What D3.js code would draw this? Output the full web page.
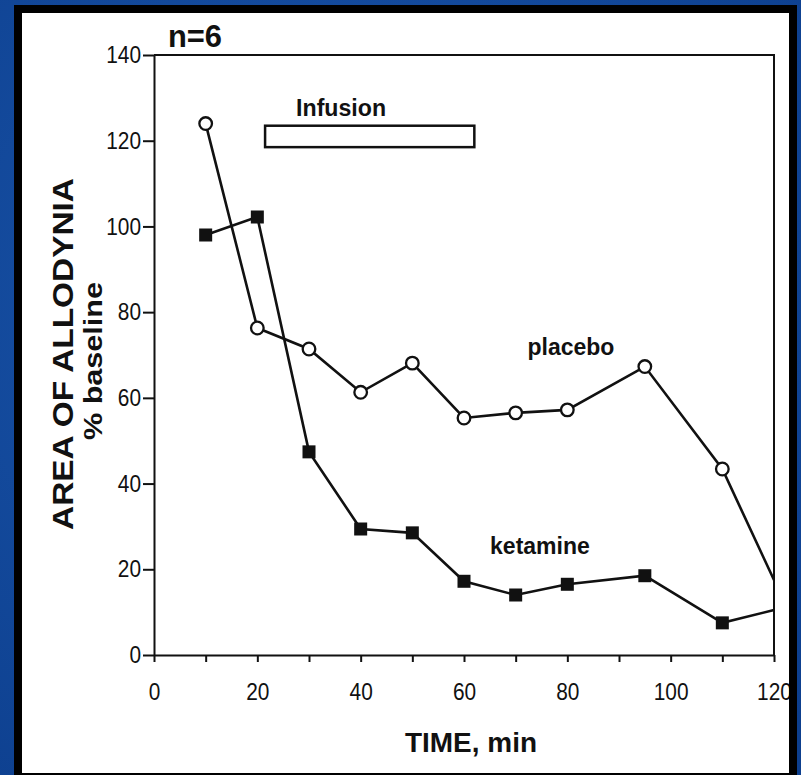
<!DOCTYPE html>
<html>
<head>
<meta charset="utf-8">
<script src="https://cdn.jsdelivr.net/npm/d3@7"></script>
<style>
html,body{margin:0;padding:0;background:#0f4595;}
svg{display:block;}
</style>
</head>
<body>
<svg id="chart" width="801" height="775"></svg>
<script>
// ---- data ----
const times    = [10, 20, 30, 40, 50, 60, 70, 80, 95, 110, 120];
const placebo  = [124, 76.3, 71.4, 61.3, 68.1, 55.3, 56.5, 57.2, 67.3, 43.4, 17.5];
const ketamine = [98, 102.2, 47.4, 29.4, 28.5, 17.2, 14.0, 16.5, 18.5, 7.5, 10.5];
const yTicks = [0, 20, 40, 60, 80, 100, 120, 140];
const xTicks = [0, 10, 20, 30, 40, 50, 60, 70, 80, 90, 100, 110, 120];
const xLabelTicks = [0, 20, 40, 60, 80, 100, 120];
const infusion = {start: 21.5, end: 62, low: 118.5, high: 123.5, label: "Infusion"};
const seriesLabels = [
  {name: "placebo", t: 80.7, v: 70},
  {name: "ketamine", t: 74.7, v: 23.5}
];

const svg = d3.select("#chart");

// background
const defs = svg.append("defs");
const grad = defs.append("radialGradient").attr("id","bg").attr("cx","40%").attr("cy","40%").attr("r","80%");
grad.append("stop").attr("offset","0%").attr("stop-color","#1a55ab");
grad.append("stop").attr("offset","100%").attr("stop-color","#0d3f8e");
svg.append("rect").attr("width",801).attr("height",775).attr("fill","url(#bg)");

// black frame and white panel
svg.append("rect").attr("x",14).attr("y",5).attr("width",783).attr("height",780).attr("fill","#000");
svg.append("rect").attr("x",22).attr("y",13).attr("width",767).attr("height",760).attr("fill","#fff");

const x = d3.scaleLinear().domain([0,120]).range([154,774]);
const y = d3.scaleLinear().domain([0,140]).range([655,55]);

const boldFont = "'Liberation Sans',Arial,Helvetica,sans-serif";

defs.append("clipPath").attr("id","panel").append("rect")
  .attr("x",22).attr("y",13).attr("width",767).attr("height",760);
const g = svg.append("g").attr("clip-path","url(#panel)");

function condense(sel){
  sel.attr("font-family",boldFont).attr("font-size",24).attr("fill","#111")
    .each(function(){
      const s = d3.select(this).text();
      if (s.length) d3.select(this).attr("textLength", s.length*11.6).attr("lengthAdjust","spacingAndGlyphs");
    });
}

// y axis
const yAxis = g.append("g").attr("transform",`translate(${x(0)},0)`)
  .call(d3.axisLeft(y).tickValues(yTicks).tickSize(11).tickPadding(2).tickSizeOuter(0));
condense(yAxis.selectAll("text"));
yAxis.selectAll("line,path").attr("stroke","#111").attr("stroke-width",2);

// x axis
const xAxis = g.append("g").attr("transform",`translate(0,${y(0)})`)
  .call(d3.axisBottom(x).tickValues(xTicks).tickSize(7).tickPadding(21).tickSizeOuter(0)
    .tickFormat(d => xLabelTicks.includes(d) ? d : ""));
condense(xAxis.selectAll("text"));
xAxis.selectAll("line,path").attr("stroke","#111").attr("stroke-width",2);

// top and right box lines
g.append("path")
  .attr("d", `M${x(0)},${y(140)}H${x(120)}V${y(0)}`)
  .attr("fill","none").attr("stroke","#111").attr("stroke-width",2);

// infusion bar
g.append("rect")
  .attr("x", x(infusion.start)).attr("y", y(infusion.high))
  .attr("width", x(infusion.end) - x(infusion.start))
  .attr("height", y(infusion.low) - y(infusion.high))
  .attr("fill","#fff").attr("stroke","#111").attr("stroke-width",2.5);
g.append("text").attr("x", x(infusion.start) + 31).attr("y", y(infusion.high) - 10)
  .attr("font-family",boldFont).attr("font-weight","bold").attr("font-size",23)
  .attr("textLength",90).attr("lengthAdjust","spacingAndGlyphs")
  .attr("fill","#111").text(infusion.label);

// lines
const line = d3.line().x(d => x(d[0])).y(d => y(d[1]));
const pData = times.map((t,i)=>[t, placebo[i]]);
const kData = times.map((t,i)=>[t, ketamine[i]]);
g.append("path").datum(pData).attr("d",line).attr("fill","none").attr("stroke","#111").attr("stroke-width",2.6);
g.append("path").datum(kData).attr("d",line).attr("fill","none").attr("stroke","#111").attr("stroke-width",2.6);

// markers (points at the right frame edge have no marker in the reference)
g.selectAll("rect.k").data(kData.filter(d => d[0] < 120)).join("rect")
  .attr("class","k")
  .attr("x", d => x(d[0]) - 6.5).attr("y", d => y(d[1]) - 6.5)
  .attr("width",13).attr("height",13).attr("fill","#111");
g.selectAll("circle.p").data(pData.filter(d => d[0] < 120)).join("circle")
  .attr("class","p")
  .attr("cx", d => x(d[0])).attr("cy", d => y(d[1])).attr("r",6.3)
  .attr("fill","#fff").attr("stroke","#111").attr("stroke-width",2.3);

// series labels
g.selectAll("text.sl").data(seriesLabels).join("text")
  .attr("class","sl")
  .attr("x", d => x(d.t)).attr("y", d => y(d.v))
  .attr("text-anchor","middle")
  .attr("font-family",boldFont).attr("font-weight","bold").attr("font-size",23)
  .attr("fill","#111").text(d => d.name);

// n=6
g.append("text").attr("x",168).attr("y",47)
  .attr("font-family",boldFont).attr("font-weight","bold").attr("font-size",32)
  .attr("textLength",54).attr("lengthAdjust","spacingAndGlyphs")
  .attr("fill","#111").text("n=6");

// axis titles
g.append("text").attr("x",471).attr("y",752).attr("text-anchor","middle")
  .attr("font-family",boldFont).attr("font-weight","bold").attr("font-size",28)
  .attr("textLength",132).attr("lengthAdjust","spacingAndGlyphs")
  .attr("fill","#111").text("TIME, min");

g.append("text").attr("transform","translate(73,354) rotate(-90)").attr("text-anchor","middle")
  .attr("font-family",boldFont).attr("font-weight","bold").attr("font-size",29)
  .attr("textLength",352).attr("lengthAdjust","spacingAndGlyphs")
  .attr("fill","#111").text("AREA OF ALLODYNIA");

g.append("text").attr("transform","translate(102,361) rotate(-90)").attr("text-anchor","middle")
  .attr("font-family",boldFont).attr("font-weight","bold").attr("font-size",26)
  .attr("textLength",158).attr("lengthAdjust","spacingAndGlyphs")
  .attr("fill","#111").text("% baseline");
</script>
</body>
</html>
